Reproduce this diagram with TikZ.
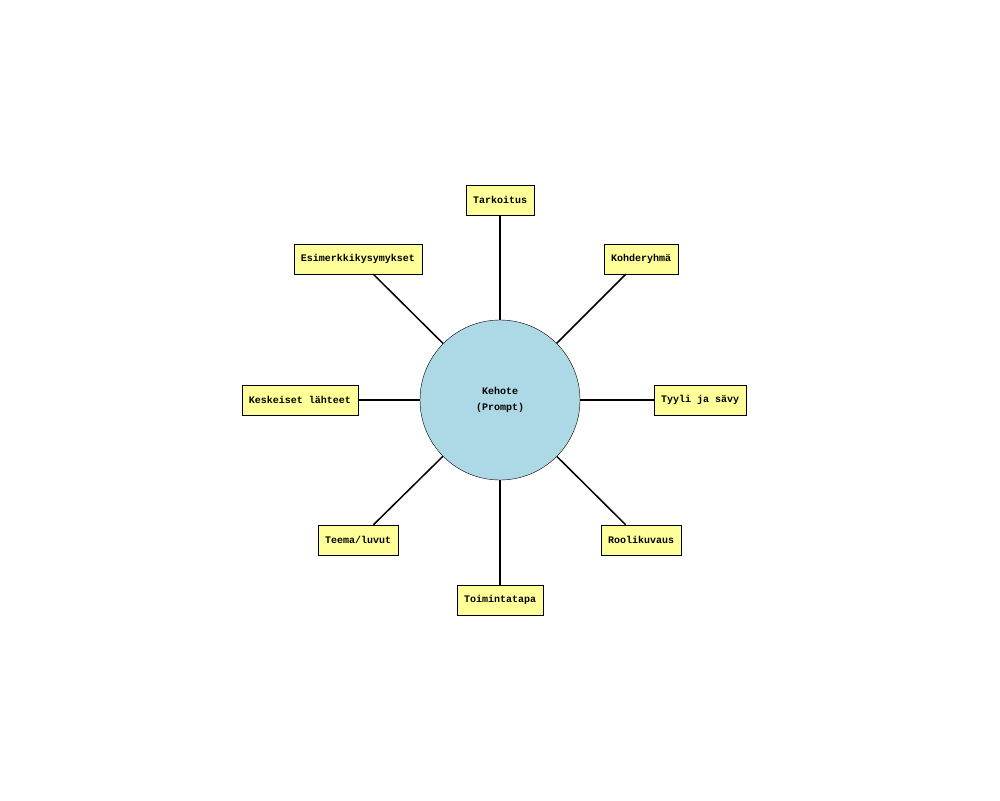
\documentclass[tikz,border=0pt]{standalone}
\usepackage{fontspec}
\setmainfont{Liberation Mono}
\usetikzlibrary{positioning}
\definecolor{lightblue}{HTML}{ADD8E6}
\definecolor{paleyellow}{HTML}{FFFF99}

\begin{document}
\begin{tikzpicture}[x=1pt,y=-1pt,
    box/.style={draw=black, fill=paleyellow, minimum height=30pt,
        inner xsep=7pt, font=\fontsize{10}{12}\selectfont\bfseries},
    hub/.style={circle, draw=black, fill=lightblue,
        minimum size=160pt, font=\fontsize{10}{16}\selectfont\bfseries, align=center},
    spoke/.style={line width=1.5pt}]
        \useasboundingbox (0,0) rectangle (1000,800);

        % Center and the eight topics
        \node[hub] (kehote) at (500,400) {Kehote\\(Prompt)};
        \node[box] (tarkoitus) at (500,200) {Tarkoitus};
        \node[box] (kohde) at (641,259) {Kohderyhmä};
        \node[box] (tyyli) at (700,400) {Tyyli ja sävy};
        \node[box] (rooli) at (641,540) {Roolikuvaus};
        \node[box] (toiminta) at (500,600) {Toimintatapa};
        \node[box] (teema) at (358,540) {Teema/luvut};
        \node[box] (lahteet) at (300,400) {Keskeiset lähteet};
        \node[box] (esim) at (358,259) {Esimerkkikysymykset};

        % Spokes
        \foreach \t in {tarkoitus, kohde, tyyli, rooli, toiminta, teema, lahteet, esim}
            \draw[spoke] (kehote) -- (\t);
\end{tikzpicture}
\end{document}
